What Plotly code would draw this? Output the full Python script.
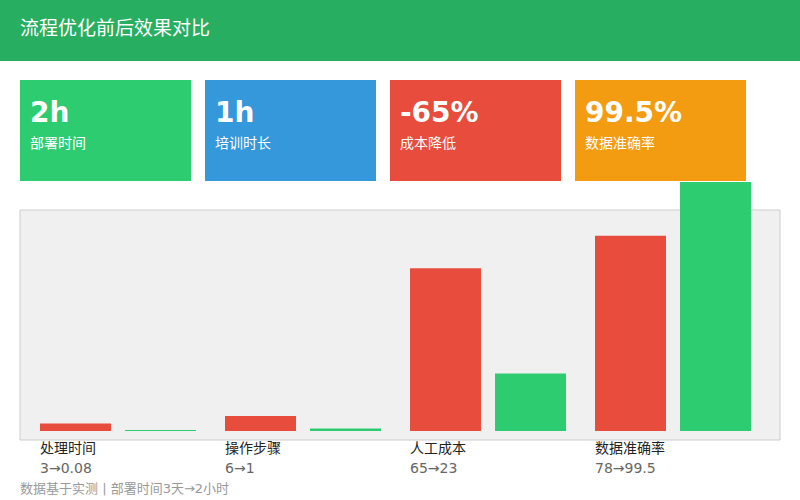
import plotly.graph_objects as go

W, H = 800, 500

title = "流程优化前后效果对比"

card_values = ["2h", "1h", "-65%", "99.5%"]
card_labels = ["部署时间", "培训时长", "成本降低", "数据准确率"]
card_colors = ["#2ecc71", "#3498db", "#e74c3c", "#f39c12"]

categories = ["处理时间", "操作步骤", "人工成本", "数据准确率"]
before = [3, 6, 65, 78]
after = [0.08, 1, 23, 99.5]

footer = "数据基于实测 | 部署时间3天→2小时"

FONT = "DejaVu Sans, Noto Sans CJK SC, sans-serif"


def px(x):
    return x / W


def py(y):
    return 1 - y / H


fig = go.Figure()

fig.add_trace(go.Bar(x=categories, y=before, marker_color="#e74c3c",
                     marker_line_width=0, name="优化前"))
fig.add_trace(go.Bar(x=categories, y=after, marker_color="#2ecc71",
                     marker_line_width=0, name="优化后"))

shapes = []
annotations = []

# header band
shapes.append(dict(type="rect", xref="paper", yref="paper",
                   x0=0, x1=1, y0=py(61), y1=1,
                   fillcolor="#27ae60", line_width=0, layer="below"))
annotations.append(dict(text=title, xref="paper", yref="paper",
                        x=px(18), y=py(28), xanchor="left", yanchor="middle",
                        showarrow=False, font=dict(size=19, color="white")))

# stat cards
for i, (val, lab, col) in enumerate(zip(card_values, card_labels, card_colors)):
    left = 20 + i * 185
    shapes.append(dict(type="rect", xref="paper", yref="paper",
                       x0=px(left), x1=px(left + 171), y0=py(181), y1=py(80),
                       fillcolor=col, line_width=0, layer="below"))
    annotations.append(dict(text="<b>" + val + "</b>", xref="paper", yref="paper",
                            x=px(left + 8), y=py(113), xanchor="left",
                            yanchor="middle", showarrow=False,
                            font=dict(size=28, color="white")))
    annotations.append(dict(text=lab, xref="paper", yref="paper",
                            x=px(left + 8), y=py(143), xanchor="left",
                            yanchor="middle", showarrow=False,
                            font=dict(size=14, color="white")))

# chart box
shapes.append(dict(type="rect", xref="paper", yref="paper",
                   x0=px(20), x1=px(780), y0=py(440), y1=py(210),
                   fillcolor="#f0f0f0", line=dict(color="#cccccc", width=1),
                   layer="below"))

# labels under each group
for cat, b, a in zip(categories, before, after):
    annotations.append(dict(text=cat, xref="x", yref="paper", x=cat, xshift=-80,
                            y=py(448), xanchor="left", yanchor="middle",
                            showarrow=False, font=dict(size=14, color="#222222")))
    annotations.append(dict(text=f"{b}→{a}", xref="x", yref="paper", x=cat,
                            xshift=-80, y=py(468), xanchor="left",
                            yanchor="middle", showarrow=False,
                            font=dict(size=14, color="#666666")))

annotations.append(dict(text=footer, xref="paper", yref="paper",
                        x=px(18), y=py(488), xanchor="left", yanchor="middle",
                        showarrow=False, font=dict(size=13, color="#999999")))

fig.update_layout(
    width=W, height=H,
    margin=dict(l=0, r=0, t=0, b=0, pad=0),
    paper_bgcolor="white",
    plot_bgcolor="rgba(0,0,0,0)",
    font=dict(family=FONT),
    barmode="group",
    bargap=0.081,
    bargroupgap=0.165,
    showlegend=False,
    shapes=shapes,
    annotations=annotations,
    xaxis=dict(domain=[px(25.5), px(765.5)], range=[-0.5, 3.5],
               visible=False, fixedrange=True),
    yaxis=dict(domain=[py(431), py(182)], range=[0, 99.5],
               visible=False, fixedrange=True),
)

# drop the browser's default 8px page margin so the figure sits at 0,0
fig.write_html("out.html", config={"displayModeBar": False},
               post_script="document.body.style.margin='0';")
